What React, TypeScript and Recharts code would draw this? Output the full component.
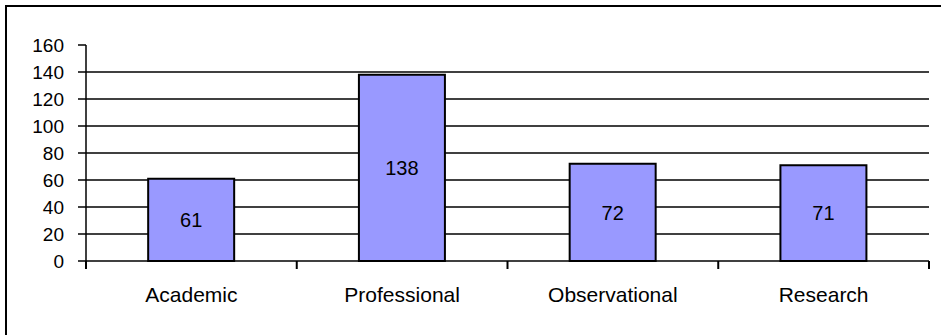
import React from "react";
import {
  BarChart,
  Bar,
  XAxis,
  YAxis,
  CartesianGrid,
  LabelList,
} from "recharts";

const categories = ["Academic", "Professional", "Observational", "Research"];
const counts = [61, 138, 72, 71];
const yTicks = [0, 20, 40, 60, 80, 100, 120, 140, 160];
const gridValues = [20, 40, 60, 80, 100, 120, 140];

const data = categories.map((name, i) => ({ name, value: counts[i] }));

const W = 941;
const H = 335;
const M = { top: 45, right: 12, left: 0, bottom: 0 };
const Y_W = 86;
const FONT = "Arial, 'Liberation Sans', sans-serif";
const band = (W - M.left - M.right - Y_W) / categories.length;

function CategoryTick(props: any) {
  const { x, y, payload, index } = props;
  const left = x - band / 2;
  return (
    <g>
      <line x1={left} x2={left} y1={y - 26} y2={y - 18} stroke="#000" strokeWidth={2} />
      {index === categories.length - 1 && (
        <line x1={left + band} x2={left + band} y1={y - 26} y2={y - 18} stroke="#000" strokeWidth={2} />
      )}
      <text x={x} y={y} dy="0.71em" textAnchor="middle" fill="#000" fontSize={21} fontFamily={FONT}>
        {payload.value}
      </text>
    </g>
  );
}

export default function App() {
  return (
    <div style={{ position: "absolute", left: 0, top: 0, width: W, height: H, background: "#fff", overflow: "hidden" }}>
      <div
        style={{
          position: "absolute",
          left: 5,
          top: 5,
          width: W + 20,
          height: H + 20,
          border: "2px solid #000",
        }}
      />
      <div style={{ position: "absolute", left: 0, top: 0 }}>
        <BarChart width={W} height={H} data={data} margin={M} barCategoryGap="29.5%">
          <CartesianGrid
            vertical={false}
            horizontalValues={gridValues}
            stroke="#000"
            strokeWidth={1.4}
          />
          <XAxis
            dataKey="name"
            height={74}
            axisLine={{ stroke: "#000", strokeWidth: 1.5 }}
            tickLine={false}
            tickSize={0}
            tickMargin={26}
            tick={<CategoryTick />}
            interval={0}
          />
          <YAxis
            width={Y_W}
            domain={[0, 160]}
            ticks={yTicks}
            interval={0}
            axisLine={{ stroke: "#000", strokeWidth: 1.5 }}
            tickLine={{ stroke: "#000", strokeWidth: 1.5 }}
            tickSize={8}
            tickMargin={14}
            tick={{ fill: "#000", fontSize: 19, fontFamily: FONT }}
          />
          <Bar dataKey="value" fill="#9999FF" stroke="#000" strokeWidth={2} isAnimationActive={false}>
            <LabelList dataKey="value" position="center" fill="#000" fontSize={20} fontFamily={FONT} />
          </Bar>
        </BarChart>
      </div>
    </div>
  );
}
